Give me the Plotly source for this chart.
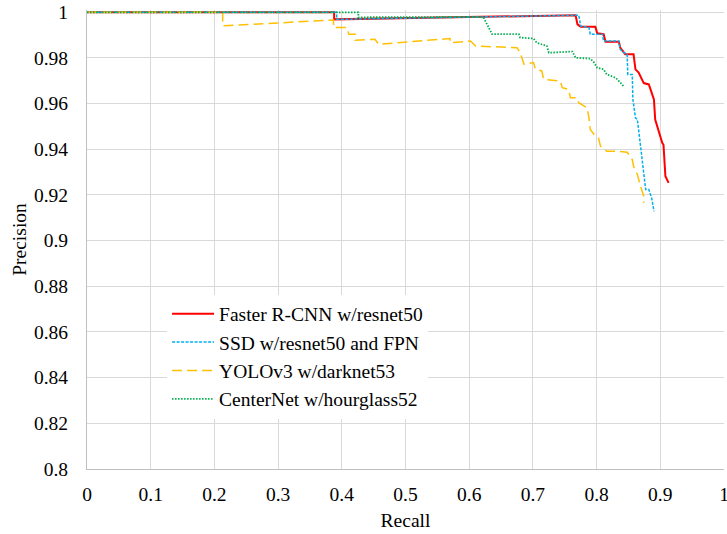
import plotly.graph_objects as go

# ---- data ----
frcnn_recall = [0, 0.388, 0.388, 0.767, 0.770, 0.775, 0.798, 0.801, 0.811, 0.814, 0.835, 0.837,
                0.843, 0.845, 0.858, 0.861, 0.866, 0.871, 0.874, 0.882, 0.885, 0.887, 0.890,
                0.892, 0.898, 0.903, 0.905, 0.908, 0.913]
frcnn_precision = [1, 1, 0.9969, 0.9987, 0.9947, 0.9937, 0.9937, 0.9908, 0.9904, 0.9871, 0.9871, 0.9845,
                   0.9823, 0.9816, 0.9816, 0.9750, 0.9736, 0.9706, 0.9690, 0.9684, 0.9660, 0.9640, 0.9618,
                   0.9530, 0.9472, 0.9428, 0.9420, 0.9282, 0.9253]

ssd_recall = [0, 0.392, 0.392, 0.767, 0.772, 0.775, 0.788, 0.790, 0.809, 0.811, 0.835, 0.837,
              0.843, 0.848, 0.849, 0.856, 0.857, 0.861, 0.864, 0.869, 0.871, 0.877, 0.882, 0.887, 0.890]
ssd_precision = [1, 1, 0.9969, 0.9987, 0.9987, 0.9940, 0.9933, 0.9904, 0.9904, 0.9874, 0.9874, 0.9838,
                 0.9823, 0.9816, 0.9728, 0.9728, 0.9618, 0.9538, 0.9530, 0.9414, 0.9370, 0.9224, 0.9224,
                 0.9180, 0.9128]

yolo_recall = [0, 0.213, 0.213, 0.387, 0.387, 0.408, 0.411, 0.421, 0.421, 0.452, 0.458, 0.570, 0.570,
               0.602, 0.610, 0.675, 0.680, 0.686, 0.701, 0.704, 0.714, 0.717, 0.743, 0.746, 0.756,
               0.759, 0.769, 0.772, 0.785, 0.788, 0.790, 0.796, 0.803, 0.806, 0.816, 0.830, 0.848,
               0.856, 0.858, 0.864, 0.869, 0.874, 0.874]
yolo_precision = [1, 1, 0.9941, 0.9966, 0.9933, 0.9933, 0.9904, 0.9904, 0.9878, 0.9882, 0.9860, 0.9885, 0.9867,
                  0.9874, 0.9852, 0.9845, 0.9823, 0.9772, 0.9780, 0.9750, 0.9743, 0.9706, 0.9699, 0.9670, 0.9662,
                  0.9626, 0.9626, 0.9604, 0.9582, 0.9538, 0.9487, 0.9465, 0.9450, 0.9414, 0.9392, 0.9392, 0.9387,
                  0.9355, 0.9326, 0.9290, 0.9238, 0.9194, 0.9165]

centernet_recall = [0, 0.426, 0.426, 0.622, 0.624, 0.636, 0.678, 0.680, 0.701, 0.706, 0.722, 0.725,
                    0.762, 0.767, 0.790, 0.796, 0.801, 0.811, 0.816, 0.830, 0.835, 0.843]
centernet_precision = [1, 1, 0.9978, 0.9980, 0.9969, 0.9904, 0.9904, 0.9889, 0.9885, 0.9867, 0.9852, 0.9823,
                       0.9828, 0.9801, 0.9797, 0.9780, 0.9757, 0.9750, 0.9728, 0.9713, 0.9699, 0.9674]

series_names = ["Faster R-CNN w/resnet50", "SSD w/resnet50 and FPN",
                "YOLOv3 w/darknet53", "CenterNet w/hourglass52"]

x_ticks = [0, 0.1, 0.2, 0.3, 0.4, 0.5, 0.6, 0.7, 0.8, 0.9, 1]
x_tick_labels = ["0", "0.1", "0.2", "0.3", "0.4", "0.5", "0.6", "0.7", "0.8", "0.9", "1"]
y_ticks = [0.8, 0.82, 0.84, 0.86, 0.88, 0.9, 0.92, 0.94, 0.96, 0.98, 1]
y_tick_labels = ["0.8", "0.82", "0.84", "0.86", "0.88", "0.9", "0.92", "0.94", "0.96", "0.98", "1"]

FONT = "Liberation Serif"
FS = 19.5

fig = go.Figure()
styles = [
    dict(color="#FF0000", width=2, dash="solid"),
    dict(color="#00B0F0", width=1.5, dash="3px,1.5px"),
    dict(color="#FFC000", width=1.5, dash="10px,5px"),
    dict(color="#00B050", width=1.8, dash="1.5px,1.5px"),
]
data = [(frcnn_recall, frcnn_precision), (ssd_recall, ssd_precision),
        (yolo_recall, yolo_precision), (centernet_recall, centernet_precision)]
for (xs, ys), name, st in zip(data, series_names, styles):
    fig.add_trace(go.Scatter(x=xs, y=ys, mode="lines", name=name, line=st))

fig.update_layout(
    width=727, height=534,
    margin=dict(l=87, r=3, t=10, b=65, autoexpand=False),
    paper_bgcolor="white", plot_bgcolor="white",
    font=dict(family=FONT, size=FS, color="#000000"),
    showlegend=True,
    legend=dict(x=0.1257, y=0.380, xanchor="left", yanchor="top",
                bgcolor="white", borderwidth=0, itemwidth=42,
                font=dict(family=FONT, size=FS, color="#000000")),
    xaxis=dict(range=[0, 1], tickvals=x_ticks, ticktext=x_tick_labels,
               showgrid=True, gridcolor="#D9D9D9", gridwidth=1,
               showline=True, linecolor="#BFBFBF", linewidth=1,
               ticks="", ticklabelstandoff=8, zeroline=False, automargin=False,
               ticklabeloverflow="allow",
               title=dict(text="Recall", standoff=8, font=dict(family=FONT, size=FS))),
    yaxis=dict(range=[0.8, 1.001], tickvals=y_ticks, ticktext=y_tick_labels,
               showgrid=True, gridcolor="#D9D9D9", gridwidth=1,
               showline=True, linecolor="#BFBFBF", linewidth=1,
               ticks="", ticklabelstandoff=14, zeroline=False, automargin=False,
               ticklabeloverflow="allow",
               title=dict(text="Precision", standoff=2, font=dict(family=FONT, size=FS))),
)

# remove the default 8px page margin so the figure fills the window exactly
fig.write_html("out.html", config={"displayModeBar": False},
               post_script="document.body.style.margin='0';")
